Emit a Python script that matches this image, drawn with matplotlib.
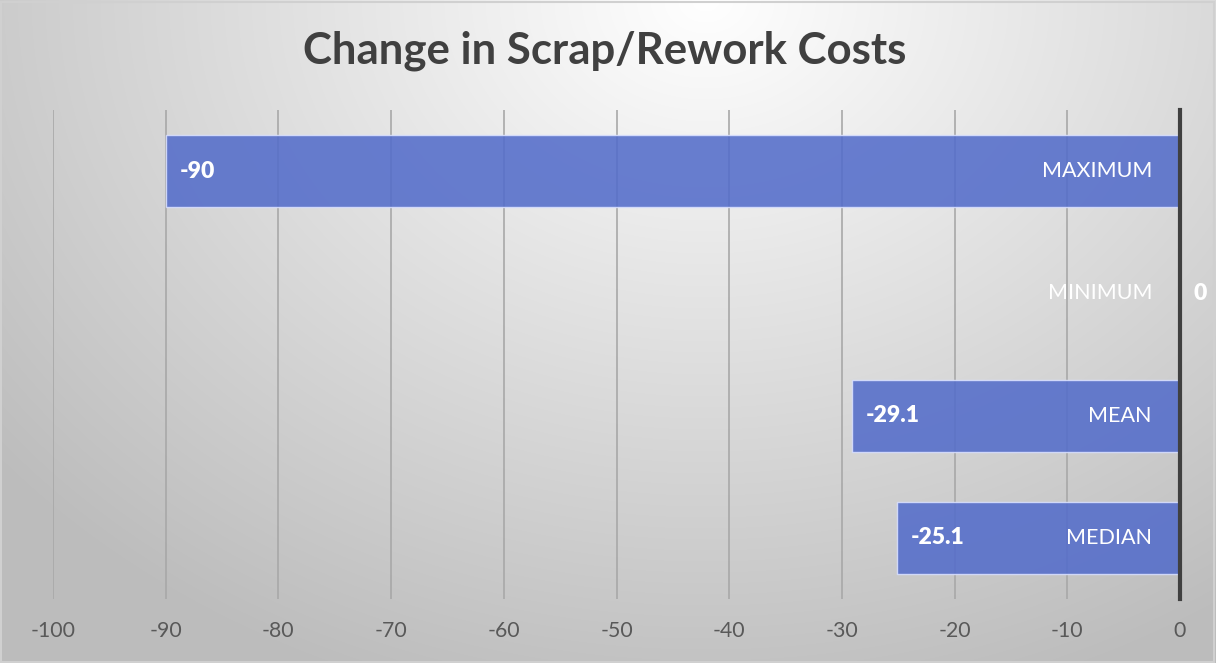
import numpy as np
import matplotlib
matplotlib.use("Agg")
import matplotlib.pyplot as plt

categories = ["MAXIMUM", "MINIMUM", "MEAN", "MEDIAN"]
values = [-90, 0, -29.1, -25.1]
value_labels = ["-90", "0", "-29.1", "-25.1"]
xticks = list(range(-100, 1, 10))
title = "Change in Scrap/Rework Costs"

W, H, DPI = 1216, 663, 100
fig = plt.figure(figsize=(W / DPI, H / DPI), dpi=DPI)
plt.rcParams['font.family'] = ['Lato', 'DejaVu Sans']

# radial gradient background
bg = fig.add_axes([0, 0, 1, 1], zorder=-10)
yy, xx = np.mgrid[0:H, 0:W]
cx, cy = 0.58 * W, 0.0 * H
d = np.sqrt(((xx - cx) / (0.75 * W)) ** 2 + ((yy - cy) / (1.1 * H)) ** 2)
d = np.clip(d, 0, 1)
v = 1.0 - 0.26 * d
img = np.dstack([v, v, v])
bg.imshow(img, aspect='auto', extent=[0, 1, 0, 1], origin='upper')
bg.set_xlim(0, 1); bg.set_ylim(0, 1)
bg.axis('off')
bg.add_patch(plt.Rectangle((0.001, 0.002), 0.997, 0.995, fill=False,
                           edgecolor='#d0d0d0', linewidth=1.5, transform=bg.transAxes))

ax = fig.add_axes([53 / W, 1 - 599 / H, (1180 - 53) / W, (599 - 110) / H])
ax.patch.set_alpha(0)
ypos = np.arange(len(categories))
bars = ax.barh(ypos, values, height=0.59, color=(84/255, 109/255, 202/255), alpha=0.88,
               edgecolor=(0.85, 0.88, 1.0, 0.8), linewidth=1.0, zorder=3)
ax.set_xlim(-100, 0)
ax.set_ylim(len(categories) - 0.5, -0.5)
ax.set_xticks(xticks)
ax.set_xticklabels([str(t) for t in xticks])
ax.set_yticks([])
ax.grid(axis='x', color='#a8a8a8', linewidth=1.2, zorder=0)
ax.set_axisbelow(True)
for s in ['top', 'left', 'bottom']:
    ax.spines[s].set_visible(False)
ax.spines['right'].set_color('#404040')
ax.spines['right'].set_linewidth(3)
ax.spines['right'].set_zorder(5)
ax.tick_params(axis='x', length=0, pad=16, labelsize=15.3, labelcolor='#595959')

for i, (cat, val, lab) in enumerate(zip(categories, values, value_labels)):
    ax.annotate(cat, xy=(0, i), xytext=(-28, 0), textcoords='offset pixels',
                ha='right', va='center', color='white', fontsize=15.5, zorder=6)
    ax.annotate(lab, xy=(val, i), xytext=(14, 0), textcoords='offset pixels',
                ha='left', va='center', color='white', fontsize=16.5,
                fontweight='heavy', zorder=6, annotation_clip=False)

fig.text(0.4975, 1 - 51 / H, title, ha='center', va='center', fontsize=31.5,
         fontweight='bold', color='#404040')

fig.savefig('out.png', dpi=DPI)
